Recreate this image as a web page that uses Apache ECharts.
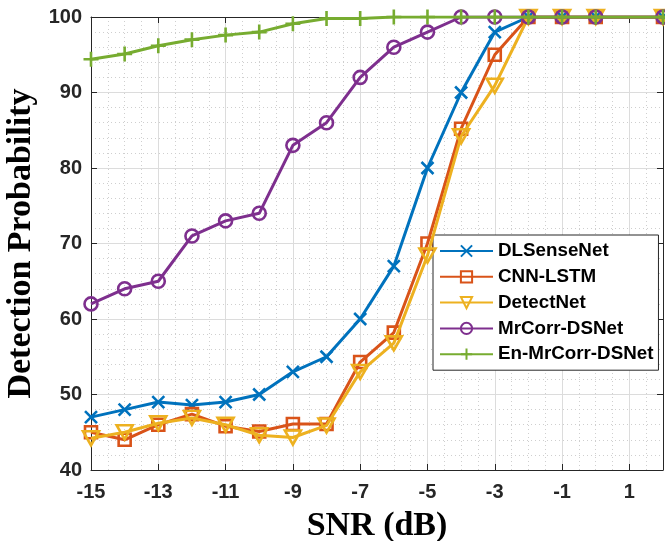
<!DOCTYPE html>
<html>
<head>
<meta charset="utf-8">
<script src="https://cdn.jsdelivr.net/npm/echarts@6/dist/echarts.min.js"></script>
<style>html,body{margin:0;padding:0;background:#fff;}#c{width:665px;height:541px;}</style>
</head>
<body>
<div id="c"></div>
<script>
const snr = [-15,-14,-13,-12,-11,-10,-9,-8,-7,-6,-5,-4,-3,-2,-1,0,2];
const dlSenseNet = [47,48,49,48.6,49,50,53,55,60,67,80,90,98,100,100,100,100];
const cnnLstm = [45,44,46,47.4,45.8,45.1,46.1,46.1,54.3,58.2,70,85.2,95,100,100,100,100];
const detectNet = [44.2,45,46.2,46.9,46,44.6,44.3,45.9,53,56.8,68.4,84.2,90.9,100,100,100,100];
const mrCorr = [62,64,65,71,73,74,83,86,92,96,98,100,100,100,100,100,100];
const enMrCorr = [94.4,95.1,96.2,97,97.6,98,99.1,99.8,99.8,100,100,100,100,100,100,100,100];
const seriesNames = ['DLSenseNet','CNN-LSTM','DetectNet','MrCorr-DSNet','En-MrCorr-DSNet'];
const xTicks = {min:-15, max:2, step:2};
const yTicks = {min:40, max:100, step:10};

const colors = ['#0072BD','#D95319','#EDB120','#7E2F8E','#77AC30'];
const pair = arr => snr.map((x,i)=>[x,arr[i]]);
const allData = [dlSenseNet,cnnLstm,detectNet,mrCorr,enMrCorr];
const symbols = [
  {symbol:'path://M0 0L10 10M0 10L10 0', size:12},
  {symbol:'rect', size:12},
  {symbol:'path://M0 0L12 0L6 10.4Z', size:[16,14]},
  {symbol:'circle', size:13},
  {symbol:'path://M5 0L5 10M0 5L10 5', size:15}
];
const series = allData.map((d,i)=>({
  name: seriesNames[i],
  type:'line',
  data: pair(d),
  symbol: symbols[i].symbol,
  symbolSize: symbols[i].size,
  showAllSymbol: true,
  lineStyle:{color:colors[i], width:3},
  itemStyle:{color:'rgba(255,255,255,0)', borderColor:colors[i], borderWidth:2.6},
  z: 2+i,
  animation:false
}));

const tickFont = {fontFamily:'"Liberation Sans", Arial, sans-serif', fontWeight:'bold', fontSize:20, color:'#262626'};
const axisLineStyle = {color:'#262626', width:1};
const chart = echarts.init(document.getElementById('c'), null, {renderer:'canvas'});
chart.setOption({
  animation:false,
  backgroundColor:'#fff',
  grid:{left:91, right:2, top:17, bottom:71, containLabel:false, outerBoundsMode:'none'},
  legend:{
    orient:'vertical', left:433, top:235,
    padding:[6,5,6,6],
    itemWidth:53, itemHeight:14, itemGap:5.8,
    backgroundColor:'#fff', borderColor:'#262626', borderWidth:1,
    textStyle:{fontFamily:'"Liberation Sans", Arial, sans-serif', fontWeight:'bold', fontSize:18.8, color:'#000', lineHeight:20},
    data: seriesNames
  },
  xAxis:[{
    type:'value', min:xTicks.min, max:xTicks.max, interval:xTicks.step,
    position:'bottom',
    name:'SNR (dB)', nameLocation:'middle', nameGap:39,
    nameTextStyle:{fontFamily:'"Liberation Serif", "Times New Roman", serif', fontWeight:'bold', fontSize:34, color:'#000'},
    axisLine:{show:true, onZero:false, lineStyle:axisLineStyle},
    axisTick:{show:true, inside:true, length:6, lineStyle:axisLineStyle},
    axisLabel:{...tickFont, margin:12, showMaxLabel:false},
    splitLine:{show:true, lineStyle:{color:'#dcdcdc', width:1}},
    minorTick:{show:true, splitNumber:4, length:0},
    minorSplitLine:{show:true, lineStyle:{color:'#cfcfcf', width:1, type:[1,3]}}
  },{
    type:'value', min:xTicks.min, max:xTicks.max, interval:xTicks.step,
    position:'top',
    axisLine:{show:true, onZero:false, lineStyle:axisLineStyle},
    axisTick:{show:true, inside:true, length:6, lineStyle:axisLineStyle},
    axisLabel:{show:false}, splitLine:{show:false}
  }],
  yAxis:[{
    type:'value', min:yTicks.min, max:yTicks.max, interval:yTicks.step,
    position:'left',
    name:'Detection Probability', nameLocation:'middle', nameGap:45,
    nameTextStyle:{fontFamily:'"Liberation Serif", "Times New Roman", serif', fontWeight:'bold', fontSize:34, color:'#000'},
    axisLine:{show:true, onZero:false, lineStyle:axisLineStyle},
    axisTick:{show:true, inside:true, length:6, lineStyle:axisLineStyle},
    axisLabel:{...tickFont, margin:9},
    splitLine:{show:true, lineStyle:{color:'#dcdcdc', width:1}},
    minorTick:{show:true, splitNumber:5, length:0},
    minorSplitLine:{show:true, lineStyle:{color:'#cfcfcf', width:1, type:[1,3]}}
  },{
    type:'value', min:yTicks.min, max:yTicks.max, interval:yTicks.step,
    position:'right',
    axisLine:{show:true, onZero:false, lineStyle:axisLineStyle},
    axisTick:{show:true, inside:true, length:6, lineStyle:axisLineStyle},
    axisLabel:{show:false}, splitLine:{show:false}
  }],
  series: series
});
</script>
</body>
</html>
